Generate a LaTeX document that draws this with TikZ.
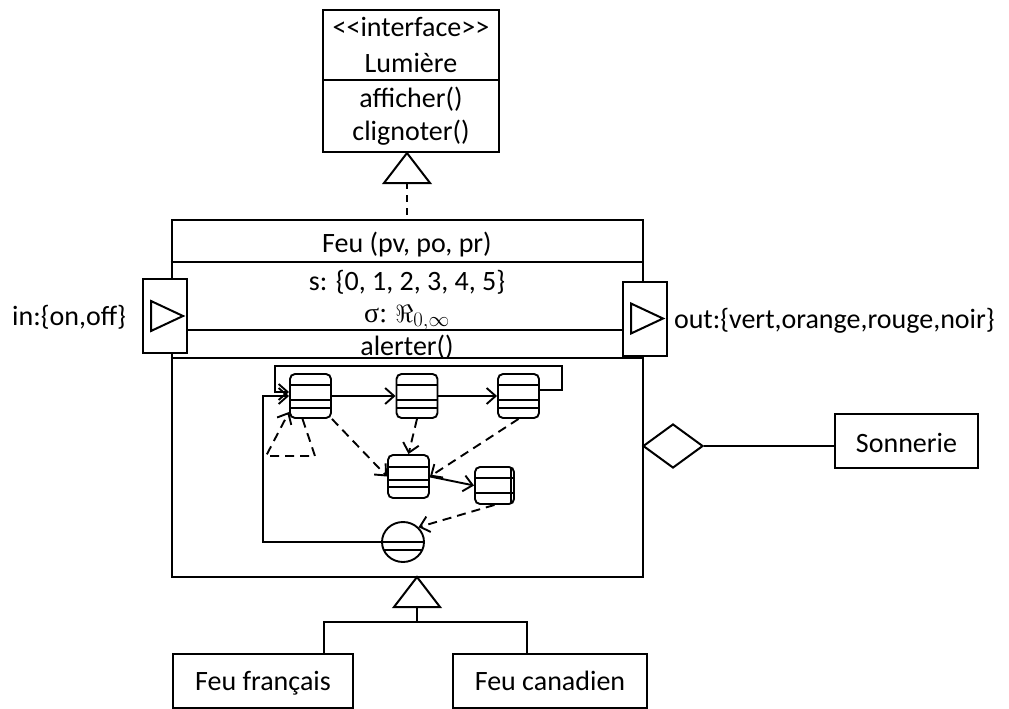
\documentclass[tikz,border=0pt]{standalone}
\usepackage{fontspec}
\setmainfont{Carlito}
\newfontfamily\grecserif{Liberation Serif}
\usetikzlibrary{arrows.meta,shapes.geometric}

\begin{document}
\begin{tikzpicture}[x=1pt,y=-1pt,line width=2pt,
  txt/.style={inner sep=0pt,anchor=base,font=\fontsize{28}{32}\selectfont},
  boite/.style={draw,fill=white,inner sep=0pt},
  port/.style={boite,minimum width=44pt,minimum height=74pt},
  losange/.style={draw,diamond,inner sep=0pt,minimum width=60pt,minimum height=44pt},
  etat/.style={draw,rounded corners=5pt,line width=1.9pt,inner sep=0pt,
    minimum width=41pt,minimum height=44pt,
    path picture={\foreach \d in {#1}
      \draw[line width=1.9pt] ([yshift=-\d pt]path picture bounding box.north west)
        -- ([yshift=-\d pt]path picture bounding box.north east);}},
  etat/.default={11,26,34},
  fin/.style={draw,ellipse,line width=1.9pt,inner sep=0pt,minimum width=42pt,minimum height=40pt,
    path picture={\foreach \d in {20,28}
      \draw[line width=1.9pt] ([yshift=-\d pt]path picture bounding box.north west)
        -- ([yshift=-\d pt]path picture bounding box.north east);}},
  fleche/.style={line width=1.9pt,-{Straight Barb[length=9pt,width=16pt]}},
  pointille/.style={dash pattern=on 9pt off 6pt}]
\useasboundingbox (0,0) rectangle (1009,709);
%%%%%%%%%%%%%%%%%%%% l'interface Lumiere %%%%%%%%%%%%%%%%%%%%
\node[boite,minimum width=176pt,minimum height=142pt] (lum) at (411,81) {};
\coordinate (sepL) at (411,80);
\draw (lum.west |- sepL) -- (lum.east |- sepL);
\node[txt] (tInterf) at (411,37) {<{}<interface>{}>};
\node[txt] (tLum) at (411,72) {Lumière};
\node[txt] (tAff) at (411,107) {afficher()};
\node[txt] (tCli) at (411,140) {clignoter()};
%%%%%%%%%%%%%%%%%%%% la classe Feu %%%%%%%%%%%%%%%%%%%%
\node[boite,minimum width=471pt,minimum height=357pt] (feu) at (407,398.5) {};
\coordinate (sep1) at (407,262);
\coordinate (sep2) at (407,330);
\coordinate (sep3) at (407,358);
\draw (feu.west |- sep1) -- (feu.east |- sep1);
\draw (feu.west |- sep3) -- (feu.east |- sep3);
\node[txt] (tFeu) at (407,252) {Feu (pv, po, pr)};
\node[txt] (tEtats) at (407,290) {s: \{0, 1, 2, 3, 4, 5\}};
\node[txt] (tSigma) at (407,322) {{\grecserif σ:} $\Re_{0,\infty}$};
\node[txt] (tAlert) at (407,355) {alerter()};
% realisation de l'interface
\coordinate (hT) at (feu.north |- lum.south);
\coordinate (bT) at (407,182);
\draw (hT) -- ++(-23,30) -- ++(46,0) -- cycle;
\draw[pointille,dash pattern=on 7pt off 6pt] (bT) -- (feu.north);
%%%%%%%%%%%%%%%%%%%% les ports %%%%%%%%%%%%%%%%%%%%
\node[port] (pin) at (165,316) {};
\node[port] (pout) at (644.5,318.5) {};
\draw (pin.east |- sep2) -- (pout.west |- sep2);
\draw ([xshift=-14pt,yshift=15pt]pin.center) -- ([xshift=18pt]pin.center) -- ([xshift=-14pt,yshift=-15pt]pin.center) -- cycle;
\draw ([xshift=-13.5pt,yshift=15pt]pout.center) -- ([xshift=18.5pt]pout.center) -- ([xshift=-13.5pt,yshift=-15pt]pout.center) -- cycle;
\node[txt,anchor=base east] (tIn) at (127,325) {in:\{on,off\}};
\node[txt,anchor=base west] (tOut) at (673,328) {out:\{vert,orange,rouge,noir\}};
%%%%%%%%%%%%%%%%%%%% le diagramme d'etats %%%%%%%%%%%%%%%%%%%%
\node[etat] (e1) at (310.5,396) {};
\node[etat] (e2) at (417,396) {};
\node[etat] (e3) at (518.5,396) {};
\node[etat={12,25,32},minimum height=43pt] (e4) at (408.5,476.5) {};
\node[etat={11,26},minimum width=39pt,minimum height=37pt] (e5) at (494.5,485.5) {};
\draw[line width=1.9pt] ([xshift=-4pt,yshift=-2pt]e5.north east) -- ([xshift=-4pt,yshift=2pt]e5.south east);
\node[fin] (f) at (403,542) {};
\coordinate (bo1) at (562,366);
\coordinate (bo2) at (275,366);
\coordinate (bo3) at (263,542);
\coordinate (ba1) at (315,456);
\coordinate (ba2) at (266,456);
\draw[fleche] (e1) -- (e2);
\draw[fleche] (e2) -- (e3);
\draw[fleche] ([yshift=6pt]e3.east) -| (bo1) -- (bo2) |- ([yshift=4pt]e1.west);
\draw[fleche] (f.west) -- (bo3) |- (e1.west);
\draw[fleche,pointille] (e1.south east) -- (e4.west);
\draw[fleche,pointille] (e2.south) -- (e4.north);
\draw[fleche,pointille] (e3.south) -- (e4.east);
\draw[fleche] (e4.east) -- (e5.west);
\draw[fleche,pointille] (e5.south) -- (f.north east);
\draw[fleche,pointille] ([xshift=-8pt]e1.south) -- (ba1) -- (ba2) -- ([yshift=7pt]e1.south west);
%%%%%%%%%%%%%%%%%%%% agregation Sonnerie %%%%%%%%%%%%%%%%%%%%
\node[losange] (agg) at (673,446) {};
\node[boite,minimum width=143pt,minimum height=54pt] (son) at (906.5,441) {};
\node[txt] (tSon) at (906.5,452) {Sonnerie};
\draw (agg.east) -- (agg.east -| son.west);
%%%%%%%%%%%%%%%%%%%% les specialisations %%%%%%%%%%%%%%%%%%%%
\node[boite,minimum width=180pt,minimum height=54pt] (fr) at (263,681) {};
\node[boite,minimum width=194pt,minimum height=54pt] (ca) at (550,681) {};
\node[txt] (tFr) at (263,690) {Feu français};
\node[txt] (tCa) at (550,690) {Feu canadien};
\coordinate (hB) at (417,577);
\coordinate (bB) at (417,607);
\coordinate (jB) at (417,622);
\draw (hB) -- ++(-23,30) -- ++(46,0) -- cycle;
\draw (bB) -- (jB);
\draw ([xshift=61pt]fr.north) |- (jB) -| ([xshift=-23pt]ca.north);
\end{tikzpicture}
\end{document}
